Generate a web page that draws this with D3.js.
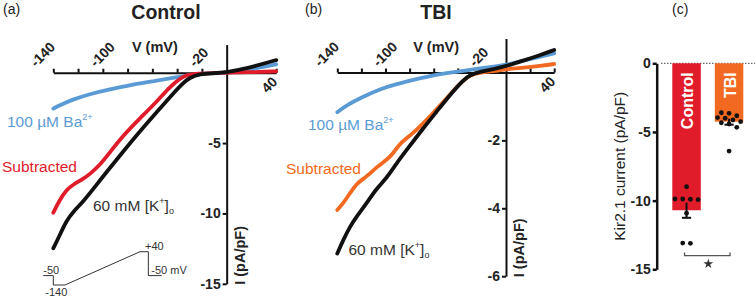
<!DOCTYPE html>
<html>
<head>
<meta charset="utf-8">
<script src="https://cdn.jsdelivr.net/npm/d3@7"></script>
<style>
  body { margin: 0; background: #fff; }
  svg { display: block; }
</style>
</head>
<body>
<div id="chart"></div>
<script>
// ---- data ----
// voltage ticks (mV) and which of them carry a label
const vTicks = [-140, -120, -100, -80, -60, -40, -20, 20, 40];
const vLabelsTop = [-140, -100, -20];
const vLabelBottom = 40;

// (a) Control, I (pA/pF) vs V (mV)
const ctrlBaV = [-140, -134.6, -123.9, -110.4, -96.9, -83.5, -70, -56.5, -43.1, -32.3, -21.6, -10.8, 0, 16.1, 32.3, 40];
const ctrlBaI = [-2.55, -2.3, -1.89, -1.51, -1.23, -0.99, -0.75, -0.57, -0.36, -0.19, -0.06, -0.02, 0, 0.19, 0.45, 0.6];
const ctrlSubV = [-140, -135, -129.2, -124, -116, -110.4, -102.3, -96, -83.5, -70, -56.5, -45.8, -37.7, -32.3, -24.2, -10.8, 0, 16, 40];
const ctrlSubI = [-9.95, -9.05, -8.3, -7.95, -7.55, -7.2, -6.55, -5.85, -4.45, -3.24, -2.06, -1.0, -0.4, -0.16, -0.05, -0.02, 0, 0.03, 0.1];
const ctrlKV = [-140, -136, -129.2, -123.9, -115.8, -105, -96.9, -85, -70, -56.5, -43.1, -35, -29.6, -21.6, -10.8, 0, 16.1, 32.3, 40];
const ctrlKI = [-12.48, -11.77, -10.47, -9.88, -9.15, -7.95, -7.05, -5.75, -4.15, -2.8, -1.46, -0.71, -0.33, -0.09, -0.04, 0.03, 0.31, 0.71, 0.9];

// (b) TBI
const tbiBaV = [-140, -132.2, -118.4, -104.6, -90.7, -76.9, -63.1, -49.2, -35.4, -21.6, -7.7, 0, 14.4, 28.2, 40];
const tbiBaI = [-1.17, -0.96, -0.71, -0.49, -0.34, -0.22, -0.1, -0.02, 0.05, 0.12, 0.18, 0.22, 0.35, 0.46, 0.56];
const tbiSubV = [-140, -135, -129.5, -123.9, -115.6, -107.3, -99, -93.5, -88, -76.9, -63.1, -49.2, -38.2, -29.9, -21.6, -7.7, 0, 14.4, 31, 40];
const tbiSubI = [-4.05, -3.85, -3.56, -3.26, -3.07, -2.78, -2.58, -2.38, -2.08, -1.79, -1.3, -0.76, -0.32, -0.07, 0, 0.05, 0.1, 0.14, 0.2, 0.25];
const tbiKV = [-140, -135, -129.5, -123.9, -115.6, -107.3, -99, -90.7, -82.4, -68.6, -57.5, -46.5, -35.4, -29.9, -21.6, -7.7, 0, 14.4, 28.2, 40];
const tbiKI = [-5.33, -4.93, -4.54, -4.24, -3.85, -3.41, -3.11, -2.67, -2.28, -1.64, -1.15, -0.66, -0.22, -0.07, 0.02, 0.12, 0.19, 0.35, 0.51, 0.66];

// voltage protocol inset (arbitrary time units, mV)
const protoT = [0, 12, 12, 26, 116, 126, 126, 142];
const protoV = [-50, -50, -140, -140, 40, 40, -50, -50];

// (c) Kir2.1 current per cell
const groups = ["Control", "TBI"];
const groupMean = [-10.7, -4.25];
const groupSem = [0.55, 0.22];
const ctrlCells = [-8.99, -9.88, -9.88, -9.93, -9.9, -10.92, -13.11, -13.09];
const tbiCells = [-4.25, -3.64, -3.82, -3.6, -4.13, -4.0, -4.42, -4.66, -4.33, -6.39, -3.95];
const cTicks = [0, -5, -10, -15];

// ---- styling ----
const FONT = '"Liberation Sans", Arial, Helvetica, sans-serif';
const BLUE = "#5b9bd5", RED = "#e01b2a", ORANGE = "#f26a21", BLACK = "#111", INK = "#222";

const svg = d3.select("#chart").append("svg")
    .attr("width", 755).attr("height", 299)
    .attr("viewBox", [0, 0, 755, 299])
    .style("font-family", FONT);

function label(g, x, y, txt, size, weight, fill, anchor) {
  return g.append("text").attr("x", x).attr("y", y).text(txt)
      .attr("font-size", size).attr("font-weight", weight || "normal")
      .attr("fill", fill || INK).attr("text-anchor", anchor || "start");
}

function styleAxis(gax, width) {
  gax.select(".domain").attr("stroke", BLACK).attr("stroke-width", width);
  gax.selectAll(".tick line").attr("stroke", BLACK).attr("stroke-width", width);
  gax.selectAll(".tick text").attr("font-size", 14).attr("font-weight", "bold")
      .attr("font-family", FONT).attr("fill", INK);
}

function ivPanel(cfg) {
  const g = svg.append("g");
  const x = d3.scaleLinear().domain([-140, 40]).range(cfg.xRange);
  const y = d3.scaleLinear().domain(cfg.yDomain).range(cfg.yRange);

  label(g, cfg.tagX, 14, cfg.tag, 14);
  label(g, cfg.titleX, 19, cfg.title, 19.5, "bold", INK, "middle");
  label(g, x(-58), 52, "V (mV)", 14.5, "bold", INK, "middle");

  // voltage axis, ticks pointing up
  const gx = g.append("g").attr("transform", `translate(0,${y(0)})`)
      .call(d3.axisTop(x).tickValues(vTicks).tickSize(4).tickSizeOuter(0).tickFormat(""));
  styleAxis(gx, 2);

  vLabelsTop.forEach(v => {
    const dx = v === -140 ? -17 : -7;
    g.append("text")
        .attr("transform", `translate(${x(v) + dx},${y(0) - 5}) rotate(-45)`)
        .attr("font-size", 14).attr("font-weight", "bold").attr("fill", INK)
        .text(v);
  });
  g.append("text")
      .attr("transform", `translate(${x(vLabelBottom) - 9},${y(0) + 21}) rotate(-45)`)
      .attr("font-size", 14).attr("font-weight", "bold").attr("fill", INK)
      .text(vLabelBottom);

  // current axis through 0 mV
  const gy = g.append("g").attr("transform", `translate(${x(0)},0)`)
      .call(d3.axisLeft(y).tickValues(cfg.yTicks).tickSize(4).tickSizeOuter(0).tickPadding(2)
        .tickFormat(d => String(d)));
  styleAxis(gy, 2);

  g.append("text")
      .attr("transform", `translate(${x(0) + 18},${y(cfg.yDomain[0]) + 1}) rotate(-90)`)
      .attr("font-size", 14.5).attr("font-weight", "bold").attr("fill", INK)
      .text("I (pA/pF)");

  const line = d3.line().x(d => x(d[0])).y(d => y(d[1])).curve(d3.curveBasis);
  cfg.traces.forEach(t => {
    g.append("path").datum(d3.zip(t.v, t.i))
        .attr("fill", "none").attr("stroke", t.color).attr("stroke-width", 3.8)
        .attr("stroke-linejoin", "round").attr("stroke-linecap", "round")
        .attr("d", line);
  });

  // trace names
  const ba = label(g, cfg.baPos[0], cfg.baPos[1], "100 µM Ba", 15.5, "normal", BLUE);
  ba.append("tspan").attr("font-size", 9).attr("dy", -7).text("2+");
  label(g, cfg.subPos[0], cfg.subPos[1], "Subtracted", 15.5, "normal", cfg.subColor);
  const k = label(g, cfg.kPos[0], cfg.kPos[1], "60 mM [K", 15.5, "normal", "#333");
  k.append("tspan").attr("font-size", 9).attr("dy", -7).text("+");
  k.append("tspan").attr("dy", 7).text("]");
  k.append("tspan").attr("font-size", 9).attr("dy", 3).text("o");
  return {g, x, y};
}

const pa = ivPanel({
  tag: "(a)", tagX: 3, title: "Control", titleX: 166,
  xRange: [53.3, 276.2], yDomain: [-15, 2], yRange: [283.8, 44.6], yTicks: [-5, -10, -15],
  traces: [
    {v: ctrlBaV, i: ctrlBaI, color: BLUE},
    {v: ctrlSubV, i: ctrlSubI, color: RED},
    {v: ctrlKV, i: ctrlKI, color: BLACK}
  ],
  baPos: [7, 127], subPos: [2, 171.5], subColor: RED, kPos: [93, 210.5]
});

ivPanel({
  tag: "(b)", tagX: 305, title: "TBI", titleX: 436,
  xRange: [337.3, 554.2], yDomain: [-6, 1], yRange: [276.2, 38.5], yTicks: [-2, -4, -6],
  traces: [
    {v: tbiBaV, i: tbiBaI, color: BLUE},
    {v: tbiSubV, i: tbiSubI, color: ORANGE},
    {v: tbiKV, i: tbiKI, color: BLACK}
  ],
  baPos: [308, 129.5], subPos: [286, 173.5], subColor: ORANGE, kPos: [348.5, 254.5]
});

// voltage protocol inset inside (a)
{
  const g = pa.g;
  const t = d3.scaleLinear().domain([0, 142]).range([43.3, 161.7]);
  const v = d3.scaleLinear().domain([-140, -50, 40]).range([285, 275.6, 251.7]);
  const pts = d3.zip(protoT, protoV);
  g.append("path").datum(pts)
      .attr("fill", "none").attr("stroke", "#333").attr("stroke-width", 1)
      .attr("d", d3.line().x(d => t(d[0])).y(d => v(d[1])));
  label(g, t(0), v(-50) - 2, "-50", 11, "normal", "#333");
  label(g, t(12) + 3, v(-140) + 11, "-140", 11, "normal", "#333", "middle");
  label(g, t(126) + 6, v(40) - 2, "+40", 11, "normal", "#333", "middle");
  label(g, t(126) + 3, v(-50) - 2, "-50 mV", 11, "normal", "#333");
}

// ---- (c) bar chart ----
{
  const g = svg.append("g");
  const x = d3.scaleBand().domain(groups).range([656.7, 758.9]).paddingInner(0.33).paddingOuter(0.367);
  const y = d3.scaleLinear().domain([-15, 0]).range([269.3, 63.3]);
  const colors = [RED, ORANGE];

  label(g, 672, 14, "(c)", 14);

  g.append("line").attr("x1", 661).attr("x2", 755).attr("y1", y(0)).attr("y2", y(0))
      .attr("stroke", "#444").attr("stroke-width", 1).attr("stroke-dasharray", "1.5,1.5");

  g.selectAll("rect.bar").data(groups).join("rect")
      .attr("x", d => x(d)).attr("width", x.bandwidth())
      .attr("y", y(0)).attr("height", (d, i) => y(groupMean[i]) - y(0))
      .attr("fill", (d, i) => colors[i]);

  g.selectAll("text.barname").data(groups).join("text")
      .attr("transform", d => `translate(${x(d) + x.bandwidth() / 2 + 6.5},${y(0) + 9}) rotate(-90)`)
      .attr("text-anchor", "end").attr("font-size", 16).attr("font-weight", "bold")
      .attr("fill", "#fff").text(d => d);

  const gy = g.append("g").attr("transform", `translate(656.7,0)`)
      .call(d3.axisLeft(y).tickValues(cTicks).tickSize(4).tickSizeOuter(0).tickPadding(2)
        .tickFormat(d => String(d)));
  styleAxis(gy, 2.5);

  g.append("text")
      .attr("transform", `translate(625,${y(-7.5)}) rotate(-90)`)
      .attr("text-anchor", "middle").attr("font-size", 15.5).attr("fill", INK)
      .text("Kir2.1 current (pA/pF)");

  // error bars (mean ± SEM, cap on the outer end)
  groups.forEach((gr, i) => {
    const cx = x(gr) + x.bandwidth() / 2;
    g.append("line").attr("x1", cx).attr("x2", cx)
        .attr("y1", y(groupMean[i] + groupSem[i])).attr("y2", y(groupMean[i] - groupSem[i]))
        .attr("stroke", BLACK).attr("stroke-width", 2);
    g.append("line").attr("x1", cx - 4.6).attr("x2", cx + 4.6)
        .attr("y1", y(groupMean[i] - groupSem[i])).attr("y2", y(groupMean[i] - groupSem[i]))
        .attr("stroke", BLACK).attr("stroke-width", 2);
  });

  // individual cells, spread sideways in rows so they don't overlap
  const r = 2.4, gap = 7.7;
  function rows(vals) {
    const ys = vals.map(y).sort((a, b) => a - b);
    const out = [];
    let row = [];
    ys.forEach(py => {
      if (row.length && py - row[0] >= 2 * r) { out.push(row); row = []; }
      row.push(py);
    });
    if (row.length) out.push(row);
    return out.flatMap(rw => rw.map((py, j) => ({dx: (j - (rw.length - 1) / 2) * gap, py})));
  }
  [ctrlCells, tbiCells].forEach((vals, i) => {
    const cx = x(groups[i]) + x.bandwidth() / 2;
    g.selectAll(null).data(rows(vals)).join("circle")
        .attr("cx", d => cx + d.dx).attr("cy", d => d.py).attr("r", r).attr("fill", BLACK);
  });

  // significance bracket
  const x1 = x("Control") + x.bandwidth() / 2 - 2, x2 = x("TBI") + x.bandwidth() / 2 + 1;
  g.append("path")
      .attr("d", `M${x1},${y(-14) - 3}V${y(-14)}H${x2}V${y(-14) - 3}`)
      .attr("fill", "none").attr("stroke", "#555").attr("stroke-width", 1.3);
  g.append("path")
      .attr("transform", `translate(${(x1 + x2) / 2 + 1},${y(-14.6)})`)
      .attr("d", d3.symbol(d3.symbolStar, 30)())
      .attr("fill", "#333");
}
</script>
</body>
</html>
